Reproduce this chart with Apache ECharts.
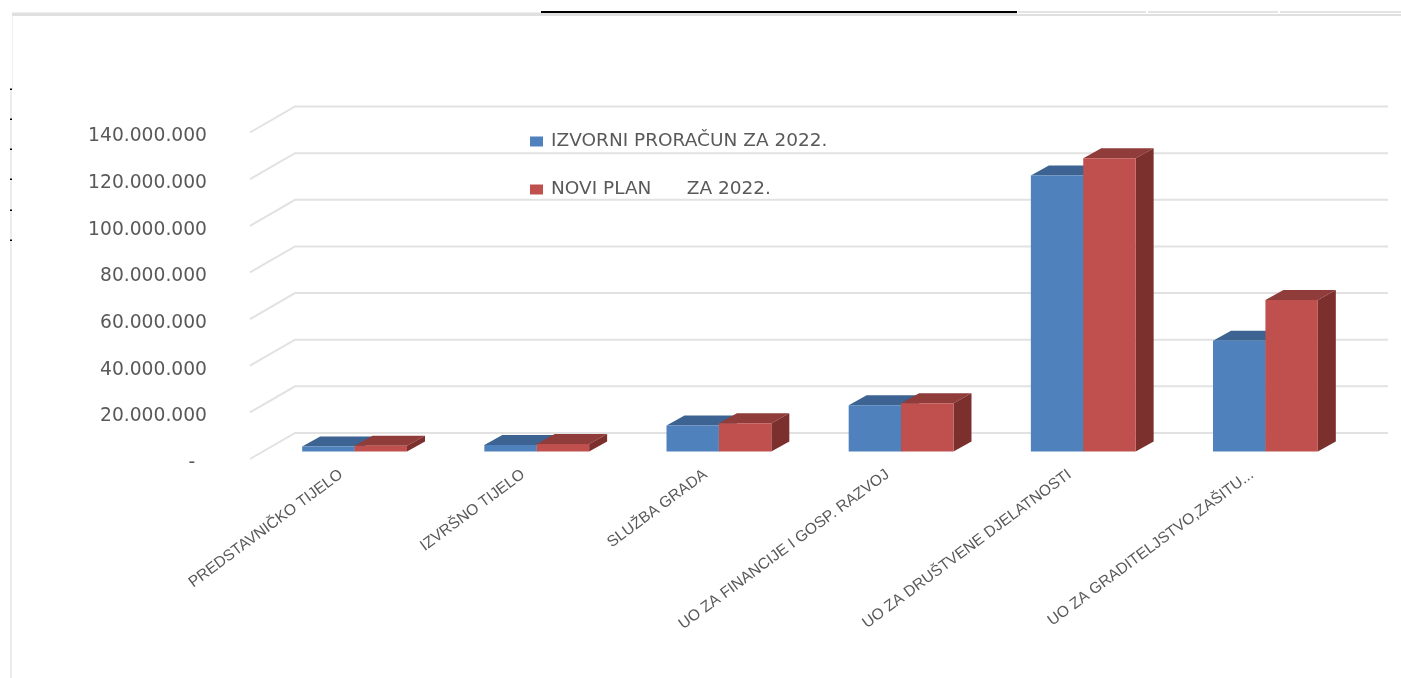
<!DOCTYPE html>
<html>
<head>
<meta charset="utf-8">
<style>html,body{margin:0;padding:0;background:#fff}#c{width:1401px;height:678px}</style>
<script src="https://cdn.jsdelivr.net/npm/echarts@6/dist/echarts.min.js"></script>
</head>
<body>
<div id="c"></div>
<script>
const categories = ['PREDSTAVNIČKO TIJELO','IZVRŠNO TIJELO','SLUŽBA GRADA','UO ZA FINANCIJE I GOSP. RAZVOJ','UO ZA DRUŠTVENE DJELATNOSTI','UO ZA GRADITELJSTVO,ZAŠITU...'];
const izvorni = [2100000,2800000,11100000,19800000,118300000,47500000];
const noviPlan = [2500000,3200000,12100000,20700000,125700000,65000000];
const yTicks = [0,20000000,40000000,60000000,80000000,100000000,120000000,140000000];
const nameBlue = 'IZVORNI PRORAČUN ZA 2022.';
const nameRed = 'NOVI PLAN      ZA 2022.';

const WALL = [45,-26], BAR_OFF = [13.5,-7.5], BAR_DEPTH = [18,-10], BAR_W = 52.4;

function fmt(v){ return v===0 ? '-  ' : String(v).replace(/\B(?=(\d{3})+$)/g,'.'); }

function gridRender(params, api){
  const y = api.coord([0, api.value(1)])[1], cs = params.coordSys;
  return {type:'polyline', silent:true,
    shape:{points:[[cs.x,y],[cs.x+WALL[0],y+WALL[1]],[cs.x+cs.width+WALL[0],y+WALL[1]]]},
    style:{stroke:'#e2e2e2',lineWidth:2,fill:null}};
}
function barRender(side, front, top, right){
  return function(params, api){
    const i = api.value(0);
    const b = api.coord([i,0]), t = api.coord([i,api.value(1)]);
    const x0 = b[0]+BAR_OFF[0]+(side<0?-BAR_W:0), x1 = x0+BAR_W;
    const yb = b[1]+BAR_OFF[1], yt = t[1]+BAR_OFF[1];
    const dx = BAR_DEPTH[0], dy = BAR_DEPTH[1];
    return {type:'group', children:[
      {type:'polygon',silent:true,shape:{points:[[x0,yt],[x1,yt],[x1+dx,yt+dy],[x0+dx,yt+dy]]},style:{fill:top}},
      {type:'polygon',silent:true,shape:{points:[[x1,yb],[x1,yt],[x1+dx,yt+dy],[x1+dx,yb+dy]]},style:{fill:right}},
      {type:'rect',silent:true,shape:{x:x0,y:yt,width:BAR_W,height:yb-yt},style:{fill:front}}
    ]};
  };
}
const chart = echarts.init(document.getElementById('c'),null,{renderer:'canvas'});
const blackTicks = [89,119,149,179,210,240];
chart.setOption({
  animation:false,
  backgroundColor:'#ffffff',
  grid:{left:250,right:58,top:132.5,bottom:219,containLabel:false},
  legend:{show:true,orient:'vertical',left:525,top:127,itemWidth:13,itemHeight:10,itemGap:29,icon:'rect',
    selectedMode:false,data:[nameBlue,nameRed],
    textStyle:{fontFamily:'DejaVu Sans',fontSize:18.5,color:'#595959',padding:[0,0,0,3]}},
  xAxis:{type:'category',data:categories,axisLine:{show:false},axisTick:{show:false},splitLine:{show:false},
    axisLabel:{interval:0,rotate:36.5,margin:14,fontFamily:'Liberation Sans',fontSize:15.5,lineHeight:32,color:'#595959'}},
  yAxis:{type:'value',min:0,max:140000000,interval:20000000,axisLine:{show:false},axisTick:{show:false},splitLine:{show:false},
    axisLabel:{margin:43,formatter:fmt,fontFamily:'DejaVu Sans',fontSize:18.7,color:'#595959',verticalAlign:'top',lineHeight:8}},
  graphic:[
    {type:'rect',silent:true,shape:{x:12,y:12.5,width:1005,height:3.5},style:{fill:'#e0e0e0'}},
    {type:'rect',silent:true,shape:{x:1017,y:14,width:384,height:2},style:{fill:'#e0e0e0'}},
    {type:'rect',silent:true,shape:{x:1018,y:11,width:128,height:2},style:{fill:'#e4e4e4'}},
    {type:'rect',silent:true,shape:{x:1148,y:11,width:130,height:2},style:{fill:'#e4e4e4'}},
    {type:'rect',silent:true,shape:{x:1280,y:11,width:121,height:2},style:{fill:'#e4e4e4'}},
    {type:'rect',silent:true,shape:{x:541,y:11,width:476,height:2},style:{fill:'#000000'}},
    {type:'rect',silent:true,shape:{x:12,y:16,width:1,height:73},style:{fill:'#eeeeee'}},
    {type:'rect',silent:true,shape:{x:10,y:89,width:2,height:589},style:{fill:'#ececec'}},
    ...blackTicks.map(y=>({type:'rect',silent:true,shape:{x:10,y:y-0.5,width:2,height:1.5},style:{fill:'#000000'}}))
  ],
  series:[
    {type:'custom',name:'grid',z:1,silent:true,renderItem:gridRender,encode:{x:0,y:1},data:yTicks.map(v=>[0,v])},
    {type:'custom',name:nameBlue,z:2,silent:true,itemStyle:{color:'#4f81bd'},renderItem:barRender(-1,'#4f81bd','#3c6391','#34587f'),encode:{x:0,y:1},data:izvorni.map((v,i)=>[i,v])},
    {type:'custom',name:nameRed,z:3,silent:true,itemStyle:{color:'#c0504d'},renderItem:barRender(1,'#c0504d','#8f3c3a','#7c302e'),encode:{x:0,y:1},data:noviPlan.map((v,i)=>[i,v])}
  ]
});
</script>
</body>
</html>
